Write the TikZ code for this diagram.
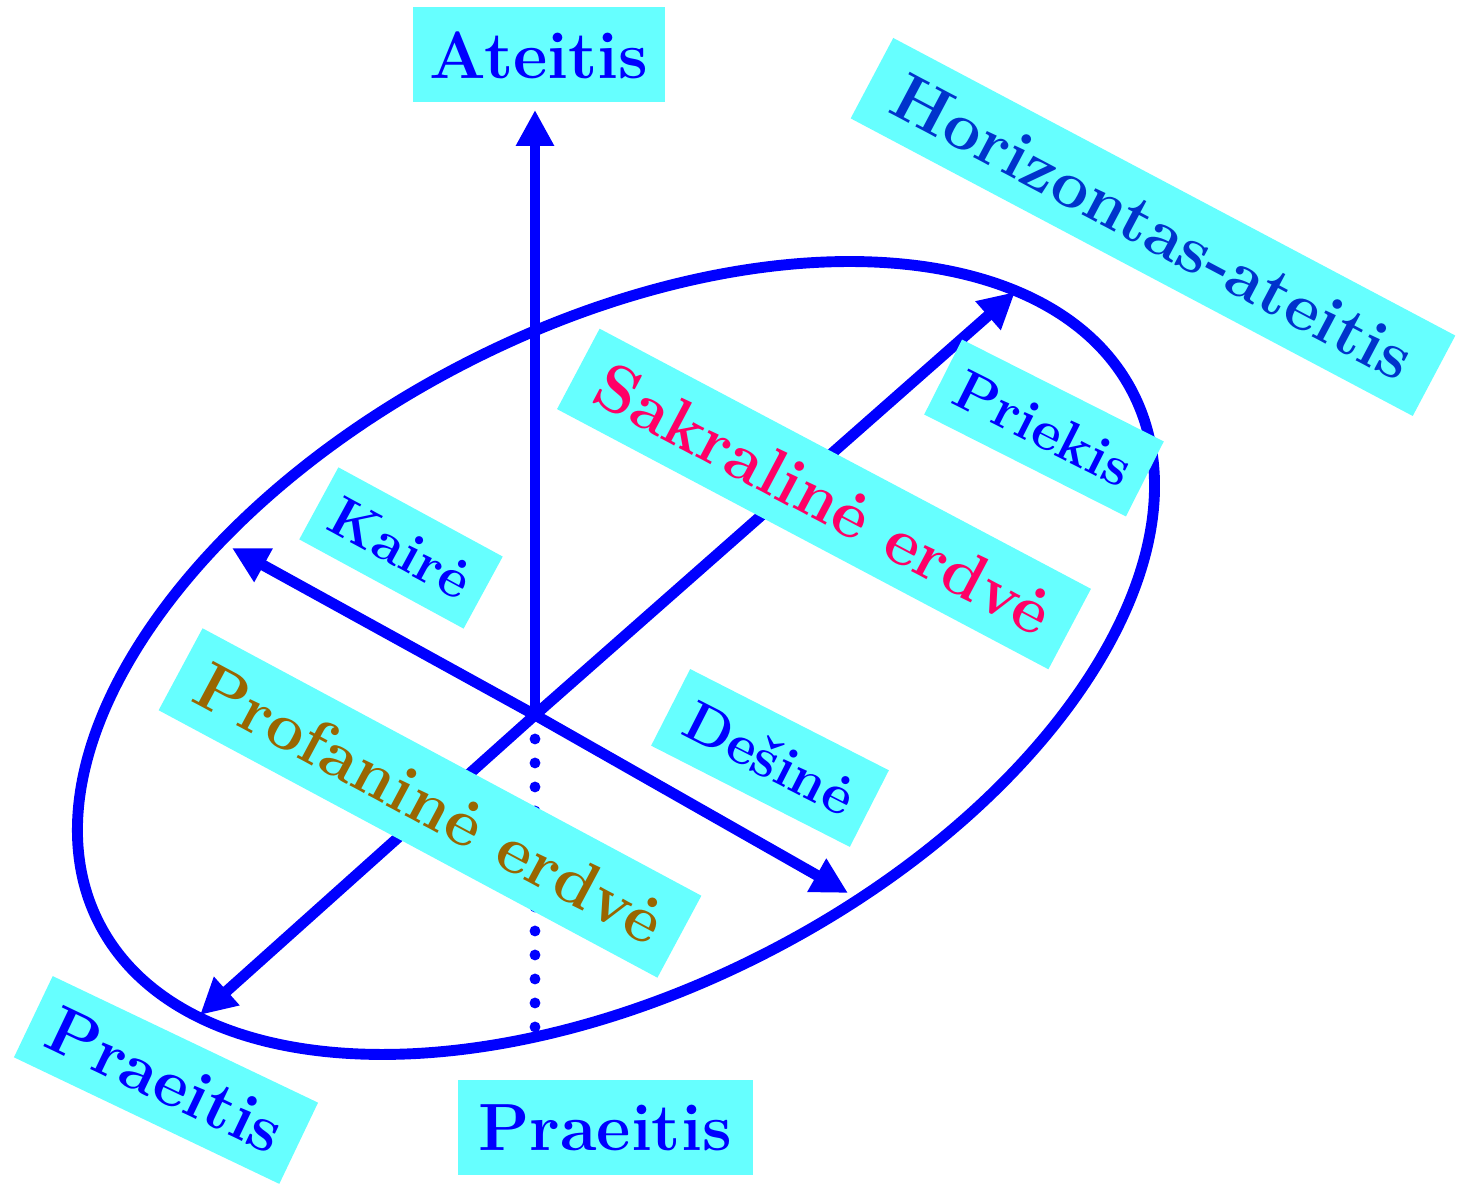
\documentclass[tikz,border=0pt]{standalone}
\usepackage{fontspec}
\usetikzlibrary{arrows.meta}
\definecolor{boxcyan}{RGB}{102,255,255}
\definecolor{horblue}{RGB}{0,51,204}
\definecolor{sakred}{RGB}{255,0,102}
\definecolor{profbrown}{RGB}{153,102,0}
\tikzset{
  axis/.style={line width=3.1pt, blue, -{Triangle[length=3.6mm,width=3.6mm]}},
  bigbox/.style={fill=boxcyan, inner sep=0pt, font=\fontsize{19pt}{23pt}\selectfont\bfseries},
  smallbox/.style={fill=boxcyan, inner sep=0pt, font=\fontsize{16pt}{19pt}\selectfont\bfseries}
}
\begin{document}
\begin{tikzpicture}
\useasboundingbox (0,0) rectangle (14.65,11.84);

\coordinate (O) at (5.35,4.69);
\coordinate (up) at (5.35,10.74);
\coordinate (ne) at (10.15,8.92);
\coordinate (sw) at (2.00,1.69);
\coordinate (left) at (2.32,6.36);
\coordinate (right) at (8.48,2.91);
\coordinate (down) at (5.35,1.56);
\coordinate (E) at (6.16,5.26);

% horizontas
\draw[line width=3.1pt, blue, rotate around={27.2:(E)}] (E) ellipse [x radius=5.81, y radius=3.31];

\draw[axis] (O)--(up);
\draw[axis] (O)--(ne);
\draw[axis] (O)--(sw);
\draw[axis] (O)--(left);
\draw[axis] (O)--(right);
\draw[line width=3.1pt, blue, line cap=round, dash pattern=on 0cm off 0.24cm] (O)--(down);

\node[bigbox, text=blue, minimum width=2.52cm, minimum height=0.95cm] at (5.39,11.29) (ateitis) {Ateitis};
\node[bigbox, text=blue, minimum width=2.95cm, minimum height=0.95cm] at (6.05,0.56) (praeitis) {Praeitis};
\node[bigbox, text=blue, rotate=-25.5, minimum width=2.94cm, minimum height=0.90cm] at (1.66,1.04) (praeitis2) {Praeitis};
\node[bigbox, text=horblue, rotate=-27.9, minimum width=6.36cm, minimum height=0.91cm] at (11.53,9.57) (horiz) {Horizontas-ateitis};
\node[bigbox, text=sakred, rotate=-27.9, minimum width=5.56cm, minimum height=0.91cm] at (8.24,6.85) (sakr) {Sakralinė erdvė};
\node[bigbox, text=profbrown, rotate=-28.2, minimum width=5.66cm, minimum height=0.93cm] at (4.30,3.81) (prof) {Profaninė erdvė};
\node[smallbox, text=blue, rotate=-26.8, minimum width=2.26cm, minimum height=0.84cm] at (10.44,7.56) (priekis) {Priekis};
\node[smallbox, text=blue, rotate=-28.5, minimum width=1.87cm, minimum height=0.82cm] at (4.01,6.36) (kaire) {Kairė};
\node[smallbox, text=blue, rotate=-27, minimum width=2.23cm, minimum height=0.86cm] at (7.70,4.26) (desine) {Dešinė};
\end{tikzpicture}
\end{document}
